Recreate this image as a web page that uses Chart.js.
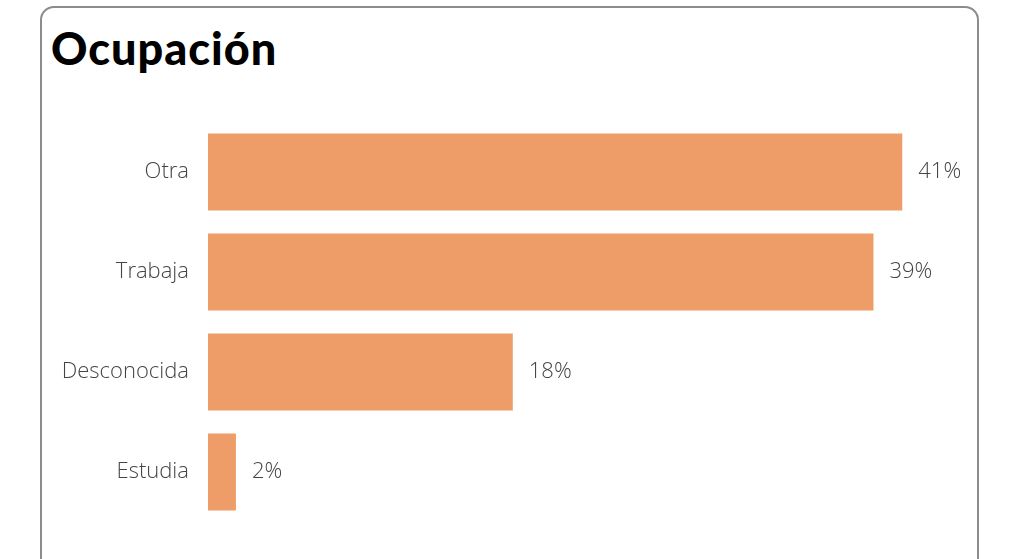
<!DOCTYPE html>
<html>
<head>
<meta charset="utf-8">
<script src="https://cdn.jsdelivr.net/npm/chart.js@4"></script>
<style>
  html, body { margin: 0; padding: 0; background: #fff; width: 1018px; height: 559px; overflow: hidden; }
  #card { position: absolute; left: 40px; top: 6px; width: 935px; height: 580px; border: 2px solid #8c8c8c; border-radius: 14px; background: #fff; }
  #title { position: absolute; left: 51px; top: 22px; margin: 0; font-family: Lato, sans-serif; font-weight: 900; font-size: 45px; letter-spacing: 1px; line-height: 52px; color: #000; }
  #c { position: absolute; left: 41px; top: 86px; }
</style>
</head>
<body>
<div id="card"></div>
<h1 id="title">Ocupación</h1>
<canvas id="c" width="937" height="472"></canvas>
<script>
const categories = ["Otra", "Trabaja", "Desconocida", "Estudia"];
const values = [41.0, 39.3, 18.0, 1.65];
const barColor = "#ee9d68";

const valueLabels = {
  id: "valueLabels",
  afterDatasetsDraw(chart) {
    const ctx = chart.ctx;
    const meta = chart.getDatasetMeta(0);
    ctx.save();
    ctx.font = "300 22px 'Open Sans', sans-serif";
    ctx.fillStyle = "#444";
    ctx.textBaseline = "middle";
    ctx.textAlign = "left";
    meta.data.forEach((bar, i) => {
      ctx.fillText(Math.round(values[i]) + "%", bar.x + 16, bar.y);
    });
    ctx.restore();
  }
};

new Chart(document.getElementById("c"), {
  type: "bar",
  data: {
    labels: categories,
    datasets: [{ data: values, backgroundColor: barColor, borderWidth: 0, barPercentage: 0.77, categoryPercentage: 1.0 }]
  },
  options: {
    indexAxis: "y",
    responsive: false,
    animation: false,
    layout: { padding: { top: 36, bottom: 36, left: 0, right: 8 } },
    plugins: { legend: { display: false }, tooltip: { enabled: false } },
    scales: {
      x: { display: false, min: 0, max: 45 },
      y: {
        afterFit(scale) { scale.width = 167; },
        border: { display: false },
        grid: { display: false, drawTicks: false },
        ticks: { padding: 19, color: "#444", font: { family: "'Open Sans', sans-serif", size: 22, weight: "300" } }
      }
    }
  },
  plugins: [valueLabels]
});
</script>
</body>
</html>
